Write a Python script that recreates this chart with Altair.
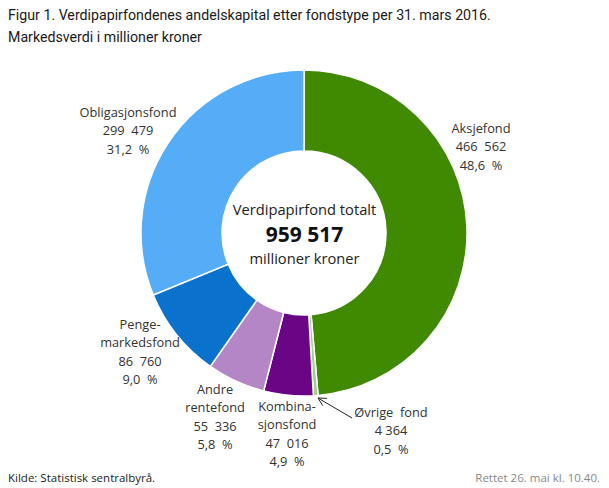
import altair as alt
import pandas as pd
import numpy as np

# ---- data ----
categories = ["Aksjefond", "Øvrige fond", "Kombinasjonsfond", "Andre rentefond",
              "Pengemarkedsfond", "Obligasjonsfond"]
values = [466562, 4364, 47016, 55336, 86760, 299479]
value_labels = ["466\u00a0\u00a0562", "4\u00a0364", "47\u00a0\u00a0016", "55\u00a0\u00a0336",
                "86\u00a0\u00a0760", "299\u00a0\u00a0479"]
pct_labels = ["48,6\u00a0\u00a0%", "0,5\u00a0\u00a0%", "4,9\u00a0\u00a0%", "5,8\u00a0\u00a0%",
              "9,0\u00a0\u00a0%", "31,2\u00a0\u00a0%"]
name_lines = [["Aksjefond"], ["Øvrige\u00a0\u00a0fond"], ["Kombina-", "sjonsfond"],
              ["Andre", "rentefond"], ["Penge-", "markedsfond"], ["Obligasjonsfond"]]
colors = ["#3f8a00", "#a3d08c", "#6a0686", "#b486c5", "#0a72cc", "#55adf7"]
total_label = "959 517"

# ---- layout (pixels, plot-area coordinates) ----
W, H = 593, 436
PAD_TOP = 44
OX, OY = 8, 8 + PAD_TOP          # page position of plot-area origin
cx, cy = 304 - OX, 233 - OY
r_in, r_out = 82, 163
# label anchor (center x, y of first line) in page coords
label_pos = [(481, 129), (391, 413), (287, 407), (215, 390), (140, 325), (128, 113)]
line_gap = 18.3

df = pd.DataFrame({"cat": categories, "val": values, "ord": list(range(len(categories)))})

rows = []
for i, cat in enumerate(categories):
    lines = name_lines[i] + [value_labels[i], pct_labels[i]]
    x0, y0 = label_pos[i]
    for j, t in enumerate(lines):
        rows.append({"x": x0 - OX, "y": y0 - OY + j * line_gap, "t": t})
lab = pd.DataFrame(rows)

pie = alt.Chart(df).mark_arc(innerRadius=r_in, outerRadius=r_out, stroke="white",
                             strokeWidth=1.5).encode(
    theta=alt.Theta("val:Q", stack=True),
    order=alt.Order("ord:Q"),
    color=alt.Color("cat:N", scale=alt.Scale(domain=categories, range=colors), legend=None),
    x=alt.value(cx), y=alt.value(cy),
)

labels = alt.Chart(lab).mark_text(font="Open Sans", fontSize=12.8, color="#333333",
                                  align="center", baseline="middle").encode(
    x=alt.X("x:Q", scale=None), y=alt.Y("y:Q", scale=None), text="t:N")

center_df = pd.DataFrame({
    "t": ["Verdipapirfond totalt", total_label, "millioner kroner"],
    "y": [211 - OY, 236 - OY, 260 - OY],
    "w": ["normal", "bold", "normal"],
})
center_reg = alt.Chart(center_df[center_df.w == "normal"]).mark_text(
    font="Open Sans", fontSize=14.7, color="#222222", align="center", baseline="middle").encode(
    x=alt.value(cx + 0.5), y=alt.Y("y:Q", scale=None), text="t:N")
center_bold = alt.Chart(center_df[center_df.w == "bold"]).mark_text(
    font="Open Sans", fontSize=21, fontWeight="bold", color="#111111",
    align="center", baseline="middle").encode(
    x=alt.value(cx + 0.5), y=alt.Y("y:Q", scale=None), text="t:N")

# arrow for the small slice
tip = np.array([318 - OX, 398 - OY])
tail = np.array([352 - OX, 418 - OY])
d = (tail - tip) / np.linalg.norm(tail - tip)
def rot(v, a):
    c, s = np.cos(a), np.sin(a)
    return np.array([c * v[0] - s * v[1], s * v[0] + c * v[1]])
h1 = tip + rot(d, np.radians(28)) * 9
h2 = tip + rot(d, np.radians(-28)) * 9
arrow_df = pd.DataFrame({
    "x": [tail[0], h1[0], h2[0]], "y": [tail[1], h1[1], h2[1]],
    "x2": [tip[0]] * 3, "y2": [tip[1]] * 3,
})
arrow = alt.Chart(arrow_df).mark_rule(color="#222222", strokeWidth=1).encode(
    x=alt.X("x:Q", scale=None), y=alt.Y("y:Q", scale=None),
    x2="x2:Q", y2="y2:Q")

foot_df = pd.DataFrame({"t": ["Kilde: Statistisk sentralbyrå."], "y": [479 - OY]})
foot_l = alt.Chart(foot_df).mark_text(font="Open Sans", fontSize=11.5, color="#222222",
                                      align="left", baseline="middle").encode(
    x=alt.value(0), y=alt.Y("y:Q", scale=None), text="t:N")
foot_r_df = pd.DataFrame({"t": ["Rettet 26. mai kl. 10.40."], "y": [479 - OY]})
foot_r = alt.Chart(foot_r_df).mark_text(font="Open Sans", fontSize=11.5, color="#888888",
                                        align="right", baseline="middle").encode(
    x=alt.value(W - 1), y=alt.Y("y:Q", scale=None), text="t:N")

chart = alt.layer(pie, labels, center_reg, center_bold, arrow, foot_l, foot_r).properties(
    width=W, height=H,
    autosize=alt.AutoSizeParams(type="none"),
    padding={"left": 0, "top": PAD_TOP, "right": 0, "bottom": 0},
    title=alt.TitleParams(
        text=["Figur 1. Verdipapirfondenes andelskapital etter fondstype per 31. mars 2016.",
              "Markedsverdi i millioner kroner"],
        anchor="start", frame="group", font="Roboto", fontSize=14.2,
        fontWeight="normal", color="#1a1a1a", lineHeight=22, offset=7),
).configure_view(stroke=None)

chart.save("out.html", embed_options={"renderer": "svg", "actions": False})
